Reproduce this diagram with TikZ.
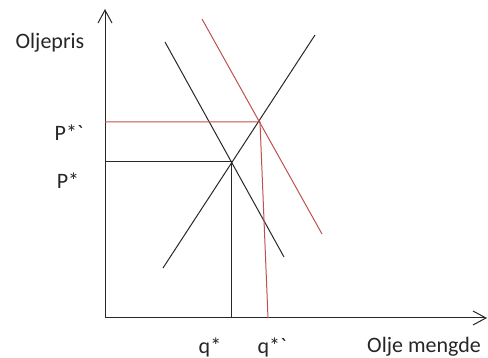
\documentclass[tikz,border=0pt]{standalone}
\usepackage{fontspec}
\setmainfont{Carlito}
\usetikzlibrary{arrows.meta}
\definecolor{lred}{RGB}{192,80,77}
\definecolor{dline}{RGB}{40,40,40}
\begin{document}
\begin{tikzpicture}[x=1pt,y=-1pt,
  axis/.style={draw=dline,line width=1pt,-{Straight Barb[length=13pt,width=14pt,line width=1pt]}},
  blk/.style={draw=dline,line width=1pt},
  red/.style={draw=lred,line width=1pt},
  lbl/.style={font=\fontsize{22}{26}\selectfont,text=black!85,inner sep=0pt,anchor=center}]
\useasboundingbox (0,0) rectangle (488,358);
% axes
\coordinate (O) at (105,318);
\coordinate (ytip) at (105,9);
\coordinate (xtip) at (487,318);
\draw[axis] (O) -- (ytip);
\draw[axis] (O) -- (xtip);
% equilibrium points
\coordinate (E) at (231,162);
\coordinate (E2) at (260,122);
\coordinate (Py) at (105,162);
\coordinate (P2y) at (105,122);
\coordinate (qx) at (231,318);
\coordinate (q2x) at (268,318);
% supply
\coordinate (S1) at (163,268);
\coordinate (S2) at (315,35);
\draw[blk] (S1) -- (S2);
% demand
\coordinate (D1) at (165,42);
\coordinate (D2) at (284,257);
\draw[blk] (D1) -- (D2);
% new demand
\coordinate (R1) at (202,19);
\coordinate (R2) at (322,234);
\draw[red] (R1) -- (R2);
% guide lines
\draw[blk] (Py) -- (E) -- (qx);
\draw[red] (P2y) -- (E2) -- (q2x);
% labels
\node[lbl] (ylab) at (50,43) {Oljepris};
\node[lbl] (p2) at (69,133) {P*\textasciigrave};
\node[lbl] (p1) at (68,181) {P*};
\node[lbl] (q1) at (210,347) {q*};
\node[lbl] (q2) at (272,347) {q*\textasciigrave};
\node[lbl] (xlab) at (424,347) {Olje mengde};
\end{tikzpicture}
\end{document}
